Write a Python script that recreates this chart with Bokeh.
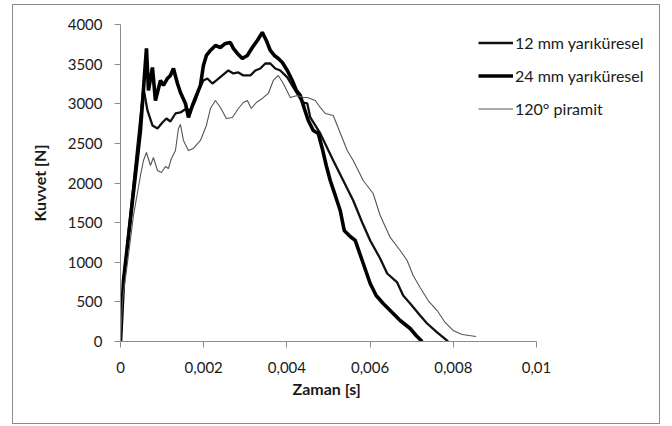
from bokeh.plotting import figure
from bokeh.models import Range1d, FixedTicker, Legend, LegendItem, Title
from bokeh.embed import file_html
from bokeh.resources import INLINE

# ---- data ----
x_ticks = [0, 0.002, 0.004, 0.006, 0.008, 0.01]
x_tick_labels = ["0", "0,002", "0,004", "0,006", "0,008", "0,01"]
y_ticks = [0, 500, 1000, 1500, 2000, 2500, 3000, 3500, 4000]

name_12 = "12 mm yarıküresel"
name_24 = "24 mm yarıküresel"
name_120 = "120° piramit"

t_24 = [0, 0.000072, 0.00048, 0.000624, 0.000672, 0.000768, 0.00084, 0.00096, 0.001032, 0.001128,
        0.0012, 0.001273, 0.001369, 0.001441, 0.001561, 0.001633, 0.001729, 0.001825, 0.001921, 0.001993,
        0.002065, 0.002161, 0.002281, 0.002401, 0.002521, 0.002641, 0.002713, 0.002809, 0.002929, 0.003049,
        0.003169, 0.003289, 0.003409, 0.003505, 0.003601, 0.003697, 0.003794, 0.00389, 0.00401, 0.00413,
        0.004226, 0.004322, 0.004418, 0.004514, 0.004634, 0.004754, 0.00485, 0.004946, 0.005042, 0.005162,
        0.005282, 0.005378, 0.005522, 0.005642, 0.00581, 0.006002, 0.006146, 0.006315, 0.006531, 0.006723,
        0.006963, 0.007107, 0.007251]
f_24 = [0, 770, 2663, 3698, 3168, 3458, 3041, 3294, 3231, 3319,
        3357, 3445, 3256, 3142, 3004, 2827, 2978, 3105, 3231, 3483,
        3609, 3672, 3735, 3710, 3761, 3773, 3698, 3635, 3571, 3609,
        3710, 3799, 3900, 3799, 3672, 3609, 3571, 3521, 3420, 3294,
        3168, 3105, 2940, 2789, 2663, 2625, 2436, 2221, 2032, 1843,
        1653, 1401, 1325, 1275, 1022, 732, 580, 480, 366, 265,
        164, 76, 0]

t_12 = [0, 0.000072, 0.000552, 0.000648, 0.000768, 0.000888, 0.001008, 0.001104, 0.0012, 0.001321,
        0.001441, 0.001585, 0.001681, 0.001801, 0.001897, 0.001993, 0.002089, 0.002209, 0.002305, 0.002449,
        0.002593, 0.002713, 0.002833, 0.002953, 0.003121, 0.003241, 0.003361, 0.003481, 0.003601, 0.003721,
        0.003842, 0.00401, 0.004154, 0.004274, 0.00437, 0.00449, 0.004562, 0.004802, 0.005114, 0.005354,
        0.005594, 0.00581, 0.006002, 0.006242, 0.006411, 0.006651, 0.006795, 0.006963, 0.007203, 0.007371,
        0.007611, 0.007875]
f_12 = [0, 770, 3200, 2915, 2726, 2688, 2764, 2814, 2776, 2877,
        2890, 2940, 2915, 3041, 3193, 3294, 3319, 3256, 3294, 3357,
        3420, 3382, 3395, 3357, 3357, 3420, 3445, 3508, 3508, 3445,
        3420, 3332, 3206, 3105, 3016, 3004, 2827, 2625, 2284, 2032,
        1779, 1502, 1275, 1047, 858, 745, 580, 480, 328, 227,
        114, 0]

t_120 = [0, 0.000048, 0.000168, 0.000312, 0.00048, 0.000552, 0.000624, 0.00072, 0.000792, 0.000888,
         0.000984, 0.00108, 0.001152, 0.001224, 0.001321, 0.001393, 0.001441, 0.001513, 0.001633, 0.001753,
         0.001921, 0.002065, 0.002161, 0.002281, 0.002401, 0.002545, 0.002689, 0.002833, 0.002953, 0.003049,
         0.003145, 0.003265, 0.003409, 0.003553, 0.003673, 0.003794, 0.003914, 0.004082, 0.00425, 0.004394,
         0.00449, 0.004682, 0.004802, 0.004922, 0.005114, 0.005354, 0.00545, 0.005594, 0.005834, 0.006074,
         0.006242, 0.006483, 0.006723, 0.006891, 0.007035, 0.007203, 0.007395, 0.007611, 0.007803, 0.007995,
         0.008211, 0.008547]
f_120 = [0, 517, 997, 1590, 2095, 2284, 2385, 2221, 2322, 2158,
         2133, 2208, 2183, 2310, 2410, 2688, 2739, 2537, 2410, 2436,
         2537, 2726, 2940, 3041, 2953, 2814, 2827, 2940, 3016, 3041,
         2940, 3016, 3067, 3130, 3294, 3357, 3256, 3079, 3105, 3079,
         3079, 3041, 2953, 2877, 2852, 2537, 2410, 2284, 2032, 1868,
         1590, 1313, 1148, 1022, 833, 681, 517, 391, 240, 139,
         88, 63]

FONT = "Lato"
TXT = "#1a1a1a"
AXC = "#8c8c8c"

# layout (px): axis span 0..0.01 is 416 px wide; frame extends further right to host the legend
AX_W = 416
FRAME_W = 540
x_end = 0.01 * FRAME_W / AX_W

border_css = """
:host { position: relative; }
:host::after {
  content: "";
  position: absolute;
  left: 12px; top: 4px;
  width: 646px; height: 418px;
  border: 1px solid #8c8c8c;
  pointer-events: none;
}
"""

p = figure(width=672, height=426, output_backend="svg", toolbar_location=None,
           x_range=Range1d(0, x_end), y_range=Range1d(0, 4000),
           stylesheets=[border_css])
p.frame_width = FRAME_W
p.frame_height = 317
p.min_border_left = 120
p.min_border_right = 12
p.min_border_top = 24
p.min_border_bottom = 85
p.outline_line_color = None
p.background_fill_color = "white"
p.border_fill_color = "white"
p.xgrid.visible = False
p.ygrid.visible = False

r12 = p.line(t_12, f_12, line_color="#111111", line_width=2.3)
r24 = p.line(t_24, f_24, line_color="#000000", line_width=3.6)
r120 = p.line(t_120, f_120, line_color="#555555", line_width=1.1)

for ax in (p.xaxis[0], p.yaxis[0]):
    ax.axis_line_color = AXC
    ax.major_tick_line_color = AXC
    ax.minor_tick_line_color = None
    ax.major_tick_in = 0
    ax.major_tick_out = 6
    ax.major_label_text_font = FONT
    ax.major_label_text_font_size = "15px"
    ax.major_label_text_color = TXT
    ax.axis_label_text_font = FONT
    ax.axis_label_text_font_size = "16px"
    ax.axis_label_text_font_style = "bold"
    ax.axis_label_text_color = TXT

p.xaxis.bounds = (0, 0.01)
p.xaxis.ticker = FixedTicker(ticks=x_ticks)
p.xaxis.major_label_overrides = {t: l for t, l in zip(x_ticks, x_tick_labels)}
p.yaxis.ticker = FixedTicker(ticks=y_ticks)
p.yaxis.axis_label = "Kuvvet [N]"
p.xaxis.major_label_standoff = 14
p.yaxis.major_label_standoff = 12
p.yaxis.axis_label_standoff = 16

# x-axis title, placed under the 0..0.01 span (not under the widened frame)
xlabel = Title(text="Zaman [s]", align="left", offset=172,
               text_font=FONT, text_font_size="16px", text_font_style="bold",
               text_color=TXT, standoff=2)
p.add_layout(xlabel, "below")

legend = Legend(items=[LegendItem(label=name_12, renderers=[r12]),
                       LegendItem(label=name_24, renderers=[r24]),
                       LegendItem(label=name_120, renderers=[r120])],
                location=(358, 222), orientation="vertical")
legend.background_fill_alpha = 0
legend.border_line_color = None
legend.padding = 0
legend.margin = 0
legend.spacing = 12
legend.glyph_width = 35
legend.glyph_height = 21
legend.label_height = 21
legend.label_standoff = 2
legend.label_text_font = FONT
legend.label_text_font_size = "16px"
legend.label_text_color = TXT
p.add_layout(legend, "center")

open("out.html", "w").write(file_html(p, INLINE))
